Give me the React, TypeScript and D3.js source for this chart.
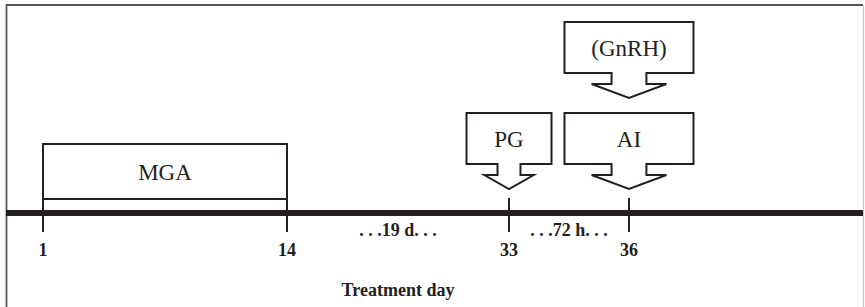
import * as d3 from 'd3';

const WIDTH = 865;
const HEIGHT = 307;

// Treatment days marked on the timeline (axis is broken, so piecewise scale).
const TICK_DAYS = [1, 14, 33, 36];
const TICK_LABELS = ['1', '14', '33', '36'];

// Treatment period drawn as a bracket box above the line.
const PERIOD_LABELS = ['MGA'];
const PERIOD_START = [1];
const PERIOD_END = [14];

// Interval notes between ticks.
const GAP_LABELS = ['. . .19 d. . .', '. . .72 h. . .'];
const GAP_FROM = [14, 33];
const GAP_TO = [33, 36];

// Arrow callouts pointing at a day; level 1 is stacked above level 0.
const EVENT_LABELS = ['PG', 'AI', '(GnRH)'];
const EVENT_DAYS = [33, 36, 36];
const EVENT_LEVELS = [0, 0, 1];

const INK = '#231f20';
const FONT = '"Liberation Serif", "Times New Roman", serif';

const LINE_Y = 213;
const TICK_TOP = 198;
const TICK_BOTTOM = 232;

// box width of each callout, by label
const BOX_W: Record<string, number> = { PG: 85, AI: 129, '(GnRH)': 129 };

export default function App() {
  const x = d3.scaleLinear().domain(TICK_DAYS).range([43, 287, 509, 629]);

  // callout tip y for a stacking level
  const level = d3.scaleLinear().domain([0, 1]).range([189, 98]);

  const callout = (cx: number, tip: number, w: number) => {
    const hh = 14; // arrow head height
    const sh = 11; // stem height
    const bh = 51; // box height
    const sw = w * 0.27;
    const hw = w * 0.58;
    const yHead = tip - hh;
    const yBox = yHead - sh;
    const top = yBox - bh;
    const p = d3.path();
    p.moveTo(cx - w / 2, top);
    p.lineTo(cx + w / 2, top);
    p.lineTo(cx + w / 2, yBox);
    p.lineTo(cx + sw / 2, yBox);
    p.lineTo(cx + sw / 2, yHead);
    p.lineTo(cx + hw / 2, yHead);
    p.lineTo(cx, tip);
    p.lineTo(cx - hw / 2, yHead);
    p.lineTo(cx - sw / 2, yHead);
    p.lineTo(cx - sw / 2, yBox);
    p.lineTo(cx - w / 2, yBox);
    p.closePath();
    return { d: p.toString(), textY: top + bh / 2 + 8 };
  };

  return (
    <svg
      width={WIDTH}
      height={HEIGHT}
      style={{ position: 'fixed', left: 0, top: 0, background: '#fff', fontFamily: FONT }}
    >
      {/* frame */}
      <line x1={6.5} x2={6.5} y1={4} y2={HEIGHT} stroke="#555" strokeWidth={1.8} />
      <line x1={6} x2={863} y1={5} y2={5} stroke="#555" strokeWidth={1.8} />
      <line x1={863.5} x2={863.5} y1={5} y2={HEIGHT} stroke="#c8c8c8" strokeWidth={1.2} />

      {/* treatment period box */}
      {PERIOD_LABELS.map((label, i) => {
        const x0 = x(PERIOD_START[i]);
        const x1 = x(PERIOD_END[i]);
        return (
          <g key={label} fill="none" stroke={INK} strokeWidth={2}>
            <path d={`M${x0},199V144H${x1}V199`} />
            <line x1={x0} x2={x1} y1={199} y2={199} />
            <text
              x={(x0 + x1) / 2}
              y={180}
              textAnchor="middle"
              fontSize={23}
              fill={INK}
              stroke="none"
            >
              {label}
            </text>
          </g>
        );
      })}

      {/* main timeline */}
      <line x1={6} x2={863} y1={LINE_Y} y2={LINE_Y} stroke={INK} strokeWidth={6} />

      {/* ticks and labels */}
      {TICK_DAYS.map((day, i) => (
        <g key={day}>
          <line
            x1={x(day)}
            x2={x(day)}
            y1={TICK_TOP}
            y2={TICK_BOTTOM}
            stroke={INK}
            strokeWidth={2}
          />
          <text
            x={x(day)}
            y={256}
            textAnchor="middle"
            fontSize={18}
            fontWeight="bold"
            fill={INK}
          >
            {TICK_LABELS[i]}
          </text>
        </g>
      ))}

      {/* interval notes */}
      {GAP_LABELS.map((label, i) => (
        <text
          key={label}
          x={(x(GAP_FROM[i]) + x(GAP_TO[i])) / 2}
          y={236}
          textAnchor="middle"
          fontSize={18}
          fontWeight="bold"
          fill={INK}
        >
          {label}
        </text>
      ))}

      {/* event callouts */}
      {EVENT_LABELS.map((label, i) => {
        const cx = x(EVENT_DAYS[i]);
        const c = callout(cx, level(EVENT_LEVELS[i]), BOX_W[label]);
        return (
          <g key={label}>
            <path d={c.d} fill="#fff" stroke={INK} strokeWidth={2} strokeLinejoin="miter" />
            <text x={cx} y={c.textY} textAnchor="middle" fontSize={23} fill={INK}>
              {label}
            </text>
          </g>
        );
      })}

      {/* axis title */}
      <text
        x={(x(14) + x(33)) / 2}
        y={296}
        textAnchor="middle"
        fontSize={18}
        fontWeight="bold"
        fill={INK}
      >
        Treatment day
      </text>
    </svg>
  );
}
